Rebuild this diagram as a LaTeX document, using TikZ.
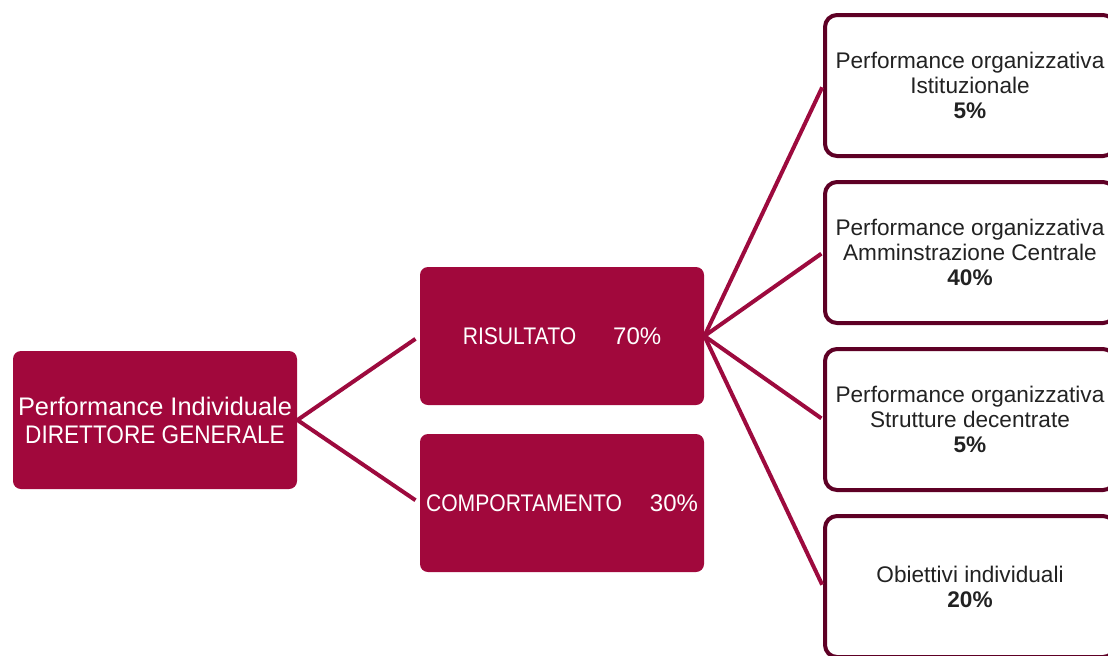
\documentclass[tikz,border=0pt]{standalone}
\usepackage{fontspec}
\setmainfont{Liberation Sans}
\usetikzlibrary{positioning, calc}
\definecolor{dgred}{HTML}{A1083C}
\definecolor{dgline}{HTML}{9D0A3E}
\definecolor{dgdark}{HTML}{5E0025}
\definecolor{dgtext}{HTML}{222222}

% caps in the reference are narrower than Liberation Sans
\newcommand{\narrowcaps}[2][0.88]{\scalebox{#1}[1]{#2}}

\tikzset{
  redbox/.style={fill=dgred, rounded corners=4pt, text=white, align=center,
    minimum width=142pt, minimum height=69pt, inner sep=0pt, font=\fontsize{12}{13.5}\selectfont},
  wbox/.style={draw=dgdark, line width=2pt, fill=white, rounded corners=6pt,
    text=dgtext, align=center, minimum width=145pt, minimum height=70.5pt,
    inner sep=1pt, font=\fontsize{11.3}{12.5}\selectfont},
  link/.style={draw=dgline, line width=2pt}
}

\begin{document}
\begin{tikzpicture}[x=0.5pt, y=-0.5pt]
  \useasboundingbox (0,0) rectangle (1108,655);

  \node[redbox, font=\fontsize{12.7}{14}\selectfont] (dg) at (155,420)
    {Performance Individuale\\\narrowcaps[0.89]{DIRETTORE GENERALE}};
  \node[redbox] (ris) at (562,336) {\narrowcaps{RISULTATO}\hspace{18.5pt}70\%};
  \node[redbox] (comp) at (562,503) {\narrowcaps{COMPORTAMENTO}\hspace{14pt}30\%};

  \draw[link, shorten >=2.5pt] (dg.east) -- (ris.west);
  \draw[link, shorten >=2.5pt] (dg.east) -- (comp.west);

  \foreach \i/\txt in {1/{Performance organizzativa\\Istituzionale\\\textbf{5\%}},
                      2/{Performance organizzativa\\Amminstrazione Centrale\\\textbf{40\%}},
                      3/{Performance organizzativa\\Strutture decentrate\\\textbf{5\%}},
                      4/{Obiettivi individuali\\\textbf{20\%}}} {
    \node[wbox] (po\i) at (970, {85.5+(\i-1)*167}) {\txt};
    \draw[link, shorten >=1pt] (ris.east) -- (po\i.west);
  }
\end{tikzpicture}
\end{document}
